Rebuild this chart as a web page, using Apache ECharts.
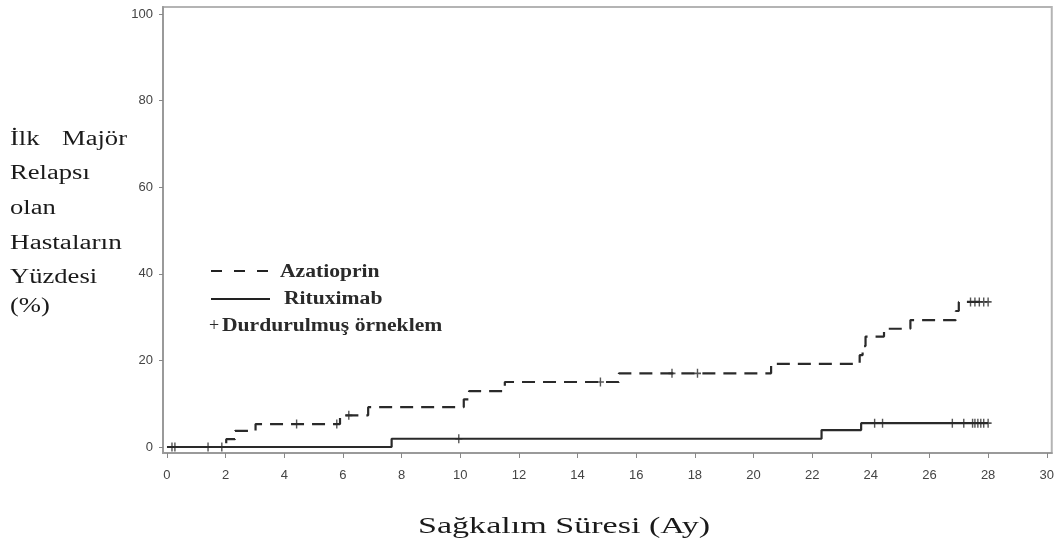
<!DOCTYPE html>
<html>
<head>
<meta charset="utf-8">
<script src="https://cdn.jsdelivr.net/npm/echarts@6/dist/echarts.min.js"></script>
<style>html,body{margin:0;padding:0;background:#fff}#c{width:1057px;height:548px}</style>
</head>
<body>
<div id="c"></div>
<script>
const xTicks = [0,2,4,6,8,10,12,14,16,18,20,22,24,26,28,30];
const yTicks = [0,20,40,60,80,100];
const azaTimes  = [0, 2.02, 2.32, 3.02, 5.9, 6.86, 10.12, 10.3, 11.52, 15.41, 20.6, 23.62, 23.72, 23.82, 24.45, 25.35, 26.9, 27.0, 28.0];
const azaLevels = [0, 1.8, 3.7, 5.3, 7.3, 9.2, 11.0, 12.9, 15.0, 17.0, 19.2, 21.2, 23.3, 25.5, 27.3, 29.3, 31.4, 33.5, 33.5];
const azaCensor = [4.42, 5.79, 6.2, 14.78, 17.22, 18.09, 27.4, 27.55, 27.7, 27.85, 28.0];
const ritTimes  = [0, 7.66, 22.32, 23.67, 28.0];
const ritLevels = [0, 1.9, 3.9, 5.5, 5.5];
const ritCensor = [0.17, 0.27, 1.4, 1.87, 9.95, 24.13, 24.4, 26.78, 27.17, 27.47, 27.55, 27.65, 27.75, 27.85, 28.0];
const yTitleLines = ['İlk', 'Majör', 'Relapsı', 'olan', 'Hastaların', 'Yüzdesi', '(%)'];
const xTitle = 'Sağkalım Süresi (Ay)';
const legendNames = ['Azatioprin', 'Rituximab', 'Durdurulmuş örneklem'];

function levelAt(times, levels, t) {
  let v = levels[0];
  for (let i = 0; i < times.length; i++) { if (times[i] <= t) v = levels[i]; }
  return v;
}
const azaLine = azaTimes.map((t, i) => [t, azaLevels[i]]);
const ritLine = ritTimes.map((t, i) => [t, ritLevels[i]]);
const azaCens = azaCensor.map(t => [t, levelAt(azaTimes, azaLevels, t)]);
const ritCens = ritCensor.map(t => [t, levelAt(ritTimes, ritLevels, t)]);

const plus = 'path://M-0.2,-1H0.2V-0.18H1V0.18H0.2V1H-0.2V0.18H-1V-0.18H-0.2Z';
const ink = '#2a2a2a';
const serif = 'Liberation Serif';
const SX = 1.33;

const chart = echarts.init(document.getElementById('c'), null, {renderer: 'canvas'});
const ytFont = {fontFamily: serif, fontSize: 20, fill: '#1a1a1a'};
const lgFont = {fontFamily: serif, fontSize: 18, fontWeight: 'bold', fill: '#2a2a2a'};
chart.setOption({
  animation: false,
  backgroundColor: '#fff',
  grid: {left: 163, top: 7, right: 5, bottom: 95, show: true, borderColor: '#b4b4b4', borderWidth: 2},
  xAxis: {
    type: 'value', min: -0.136, max: 30.17,
    axisLine: {show: true, onZero: false, lineStyle: {color: '#9a9a9a', width: 2}},
    axisTick: {show: true, length: 5, customValues: xTicks, lineStyle: {color: '#888'}},
    axisLabel: {customValues: xTicks, color: '#444', fontFamily: 'Liberation Sans', fontSize: 13, margin: 16},
    splitLine: {show: false}
  },
  yAxis: {
    type: 'value', min: -1.39, max: 101.6,
    axisLine: {show: true, onZero: false, lineStyle: {color: '#9a9a9a', width: 2}},
    axisTick: {show: true, length: 4, customValues: yTicks, lineStyle: {color: '#888'}},
    axisLabel: {customValues: yTicks, color: '#444', fontFamily: 'Liberation Sans', fontSize: 13, margin: 10},
    splitLine: {show: false}
  },
  series: [
    {type: 'line', name: legendNames[0], data: azaLine, step: 'end', showSymbol: false,
     lineStyle: {color: ink, width: 2.2, type: [13, 8]}, z: 3},
    {type: 'line', name: legendNames[1], data: ritLine, step: 'end', showSymbol: false,
     lineStyle: {color: ink, width: 2.2}, z: 3},
    {type: 'scatter', data: azaCens, symbol: plus, symbolSize: [7, 9], itemStyle: {color: ink}, z: 4},
    {type: 'scatter', data: ritCens, symbol: plus, symbolSize: [7, 9], itemStyle: {color: ink}, z: 4}
  ],
  graphic: [
    {type: 'text', left: 10, top: 130, scaleX: SX, style: Object.assign({text: yTitleLines[0]}, ytFont)},
    {type: 'text', left: 62, top: 130, scaleX: SX, style: Object.assign({text: yTitleLines[1]}, ytFont)},
    {type: 'text', left: 10, top: 164, scaleX: SX, style: Object.assign({text: yTitleLines[2]}, ytFont)},
    {type: 'text', left: 10, top: 199, scaleX: SX, style: Object.assign({text: yTitleLines[3]}, ytFont)},
    {type: 'text', left: 10, top: 234, scaleX: 1.36, style: Object.assign({text: yTitleLines[4]}, ytFont)},
    {type: 'text', left: 10, top: 268, scaleX: SX, style: Object.assign({text: yTitleLines[5]}, ytFont)},
    {type: 'text', left: 10, top: 297, scaleX: SX, style: Object.assign({text: yTitleLines[6]}, ytFont)},
    {type: 'text', left: 418, top: 515, scaleX: 1.42, style: {text: xTitle, fontFamily: serif, fontSize: 24, fill: '#1a1a1a'}},
    {type: 'line', shape: {x1: 211, y1: 271, x2: 268, y2: 271}, style: {stroke: '#222', lineWidth: 2, lineDash: [11, 12]}},
    {type: 'text', left: 280, top: 263, scaleX: 1.2, style: Object.assign({text: legendNames[0]}, lgFont)},
    {type: 'line', shape: {x1: 211, y1: 299, x2: 270, y2: 299}, style: {stroke: '#222', lineWidth: 2}},
    {type: 'text', left: 284, top: 290, scaleX: 1.2, style: Object.assign({text: legendNames[1]}, lgFont)},
    {type: 'text', left: 209, top: 317, style: {text: '+', fontFamily: serif, fontSize: 18, fill: '#2a2a2a'}},
    {type: 'text', left: 222, top: 317, scaleX: 1.2, style: Object.assign({text: legendNames[2]}, lgFont)}
  ]
});
</script>
</body>
</html>
